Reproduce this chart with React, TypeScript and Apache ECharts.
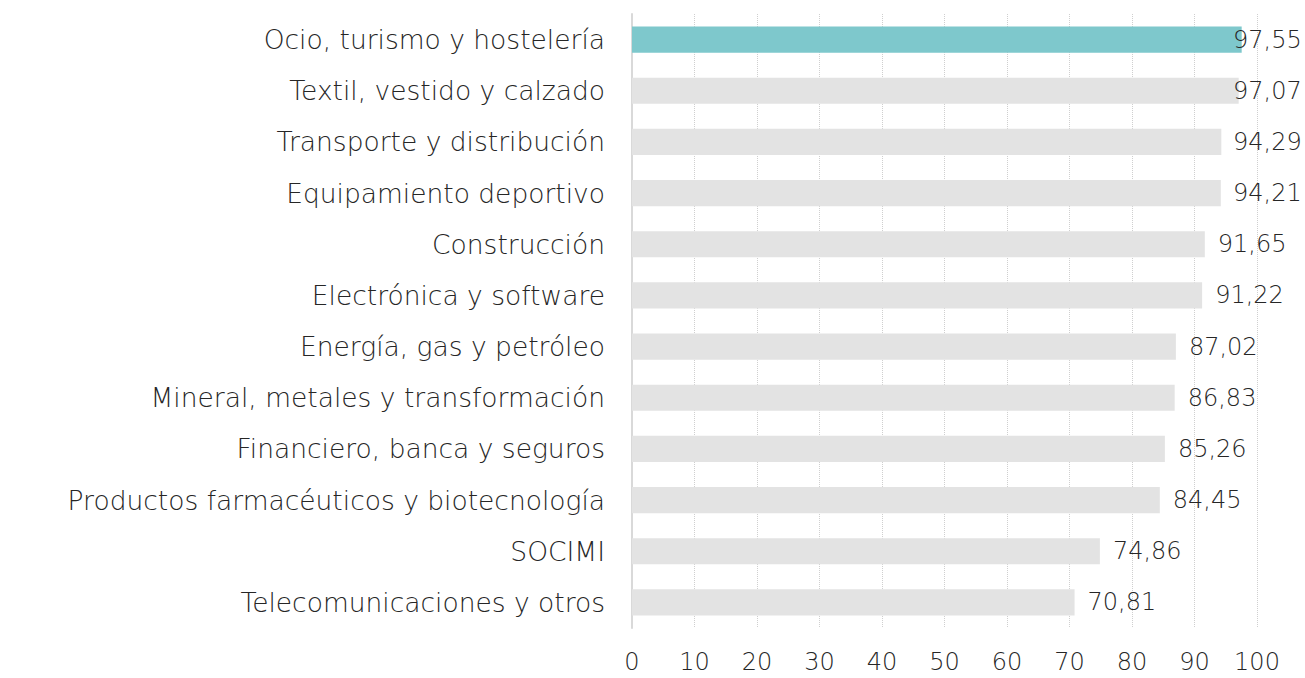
import React, { useEffect, useRef } from "react";
import * as echarts from "echarts";

const categories = [
  "Ocio, turismo y hostelería",
  "Textil, vestido y calzado",
  "Transporte y distribución",
  "Equipamiento deportivo",
  "Construcción",
  "Electrónica y software",
  "Energía, gas y petróleo",
  "Mineral, metales y transformación",
  "Financiero, banca y seguros",
  "Productos farmacéuticos y biotecnología",
  "SOCIMI",
  "Telecomunicaciones y otros",
];
const values = [97.55, 97.07, 94.29, 94.21, 91.65, 91.22, 87.02, 86.83, 85.26, 84.45, 74.86, 70.81];
const highlightIndex = 0;

const GRID_LEFT = 632;
const GRID_RIGHT = 48;
const WIDTH = 1305;
const FONT = "'DejaVu Sans', sans-serif";
const WEIGHT = 200;
const TEXT = "#262626";

export default function App() {
  const ref = useRef<HTMLDivElement>(null);
  useEffect(() => {
    if (!ref.current) return;
    const chart = echarts.init(ref.current, undefined, { renderer: "svg" });
    const plotW = WIDTH - GRID_LEFT - GRID_RIGHT;
    const pxPerUnit = plotW / 100;
    const labelW = 66;
    const gap = 13;
    const data = values.map((v, i) => {
      const end = GRID_LEFT + v * pxPerUnit;
      const overflow = Math.max(0, end + gap + labelW - 1299);
      return {
        value: v,
        itemStyle: { color: i === highlightIndex ? "#7ec8cc" : "#e3e3e3" },
        label: { offset: [-overflow, 0] },
      };
    });
    chart.setOption({
      animation: false,
      grid: { left: GRID_LEFT, right: GRID_RIGHT, top: 14, bottom: 50, containLabel: false },
      xAxis: {
        type: "value",
        min: 0,
        max: 100,
        interval: 10,
        axisLine: { show: false },
        axisTick: { show: false },
        axisLabel: { color: TEXT, fontSize: 24, fontFamily: FONT, fontWeight: WEIGHT, margin: 22 },
        splitLine: { show: true, lineStyle: { color: "#cfcfcf", type: "dotted", width: 1 } },
      },
      yAxis: {
        type: "category",
        inverse: true,
        data: categories,
        axisLine: { show: true, lineStyle: { color: "#d9d9d9", width: 2 } },
        axisTick: { show: false },
        axisLabel: { color: TEXT, fontSize: 26.5, fontFamily: FONT, fontWeight: WEIGHT, margin: 27 },
      },
      series: [
        {
          type: "bar",
          data,
          barWidth: "51%",
          label: {
            show: true,
            position: "right",
            distance: gap,
            color: TEXT,
            fontSize: 24,
            fontFamily: FONT,
            fontWeight: WEIGHT,
            formatter: (p: any) => p.value.toFixed(2).replace(".", ","),
          },
        },
      ],
    });
    return () => chart.dispose();
  }, []);
  return <div ref={ref} style={{ width: 1305, height: 678, position: "absolute", left: 0, top: 0, background: "#fff" }} />;
}
